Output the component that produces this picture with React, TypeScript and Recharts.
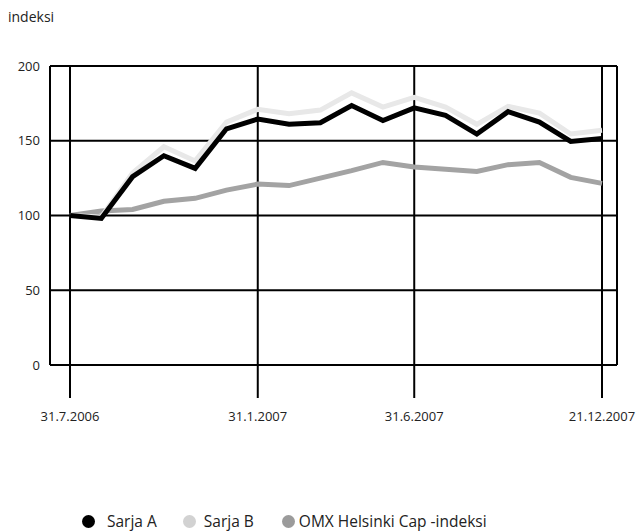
import React from 'react';
import { LineChart, Line, XAxis, YAxis, CartesianGrid, Legend } from 'recharts';

const months = [
  '7/2006', '8/2006', '9/2006', '10/2006', '11/2006', '12/2006',
  '1/2007', '2/2007', '3/2007', '4/2007', '5/2007', '6/2007',
  '7/2007', '8/2007', '9/2007', '10/2007', '11/2007', '12/2007',
];
const sarjaA = [100, 98, 126, 140, 131.5, 158, 164.5, 161, 162, 173.5, 163.5, 172, 167, 154.5, 169.5, 162.5, 149.5, 151.5];
const sarjaB = [100, 99, 128.5, 146, 136.5, 162.5, 171, 168, 170.5, 182, 172.5, 179, 172.5, 161, 173, 168.5, 154.5, 157];
const omx = [100, 103, 104, 109.5, 111.5, 117, 121, 120, 125, 130, 135.5, 132.5, 131, 129.5, 134, 135.5, 125.5, 121.5];

const tickIndex = [0, 6, 11, 17];
const tickLabels = ['31.7.2006', '31.1.2007', '31.6.2007', '21.12.2007'];
const yTicks = [0, 50, 100, 150, 200];

const data = months.map((m, i) => ({ idx: i, month: m, a: sarjaA[i], b: sarjaB[i], omx: omx[i] }));

const FONT = '"Open Sans", sans-serif';

const legendItems = [
  { label: 'Sarja A', color: '#000000', gap: 12, after: 26 },
  { label: 'Sarja B', color: '#d2d2d2', gap: 8, after: 28 },
  { label: 'OMX Helsinki Cap -indeksi', color: '#9b9b9b', gap: 4, after: 0 },
];

const ChartLegend = () => (
  <div style={{ display: 'flex', alignItems: 'center', paddingLeft: 82, height: 20, fontFamily: FONT, fontSize: 15.5, color: '#222' }}>
    {legendItems.map((it) => (
      <div key={it.label} style={{ display: 'flex', alignItems: 'center', marginRight: it.after }}>
        <span style={{ width: 13, height: 13, borderRadius: '50%', background: it.color, marginRight: it.gap, display: 'inline-block' }} />
        <span>{it.label}</span>
      </div>
    ))}
  </div>
);

export default function App() {
  return (
    <div style={{ position: 'absolute', left: 0, top: 0, width: 638, height: 531, background: '#fff' }}>
      <div style={{ position: 'absolute', left: 8, top: 7, fontFamily: FONT, fontSize: 14, color: '#222' }}>indeksi</div>
      <LineChart width={638} height={531} data={data} margin={{ top: 66, right: 21, bottom: 0, left: 0 }}>
        <CartesianGrid stroke="#000" strokeWidth={2} horizontal vertical />
        <XAxis
          dataKey="idx"
          type="number"
          domain={[0, 17]}
          ticks={tickIndex}
          tickFormatter={(v: number) => tickLabels[tickIndex.indexOf(v)] ?? ''}
          padding={{ left: 20, right: 15 }}
          height={146}
          axisLine={false}
          tickSize={33}
          tickMargin={14}
          tickLine={{ stroke: '#000', strokeWidth: 2 }}
          tick={{ fill: '#222', fontSize: 13, fontFamily: FONT }}
        />
        <YAxis
          domain={[0, 200]}
          ticks={yTicks}
          width={50}
          axisLine={false}
          tickLine={false}
          tickSize={0}
          tickMargin={10}
          tick={{ fill: '#222', fontSize: 13, fontFamily: FONT }}
        />
        <Line dataKey="omx" stroke="#a3a3a3" strokeWidth={5} dot={false} isAnimationActive={false} />
        <Line dataKey="b" stroke="#e8e8e8" strokeWidth={5} dot={false} isAnimationActive={false} />
        <Line dataKey="a" stroke="#000000" strokeWidth={5} dot={false} isAnimationActive={false} />
        <Legend verticalAlign="bottom" height={20} content={() => <ChartLegend />} wrapperStyle={{ left: 0, width: 638 }} />
      </LineChart>
    </div>
  );
}
